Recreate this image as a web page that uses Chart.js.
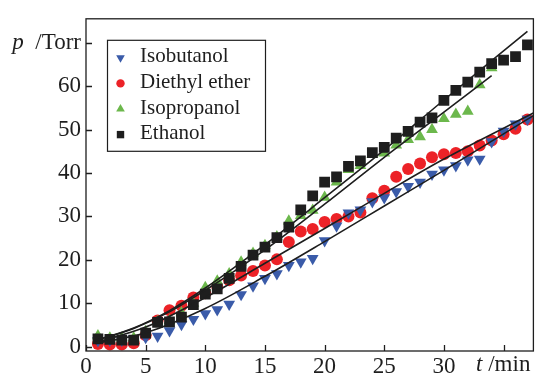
<!DOCTYPE html>
<html>
<head>
<meta charset="utf-8">
<script src="https://cdn.jsdelivr.net/npm/chart.js@4/dist/chart.umd.min.js"></script>
<style>
  html, body { margin: 0; padding: 0; background: #fff; }
  #wrap { width: 541px; height: 376px; }
</style>
</head>
<body>
<div id="wrap"><canvas id="c" width="541" height="376"></canvas></div>
<script>
// ---- data ----
const timeMain = [1,2,3,4,5,6,7,8,9,10,11,12,13,14,15,16,17,18,19,20,21,22,23,24,25,26,27,28,29,30,31,32,33,34,35,36,37];
const timeIso  = [1,2,3,4,5,6,7,8,9,10,11,12,13,14,15,16,17,18,19,20,21,22,23,24,25,26,27,28,29,30,31,32,33,34];

const isobutanol   = [1.4,1.5,1.5,1.8,2.1,2.4,3.7,5.1,6.3,7.6,8.5,9.8,12.0,14.0,15.7,16.8,18.7,19.5,20.3,24.4,27.8,30.8,31.5,33.4,34.3,35.7,36.9,37.9,39.7,40.7,41.7,43.0,43.2,47.2,49.6,51.3,52.4];
const diethylEther = [0.6,0.5,0.5,0.8,2.6,6.0,8.4,9.4,11.3,12.3,13.8,15.3,16.4,17.4,18.7,20.1,24.1,26.5,27.1,28.7,29.4,30.0,30.9,34.2,35.9,39.1,40.9,42.2,43.6,44.3,44.6,45.0,46.3,47.5,48.9,50.2,52.3];
const isopropanol  = [2.5,2.0,2.0,2.0,3.5,5.7,6.0,7.8,10.0,13.6,15.1,16.8,19.5,21.5,23.3,25.3,28.9,30.2,31.4,34.4,37.9,40.8,41.7,44.2,44.6,46.4,47.7,48.3,50.0,52.5,53.5,54.2,60.3,64.2];
const ethanol      = [1.8,1.7,1.5,1.5,3.1,5.6,5.7,6.8,9.7,12.1,13.3,15.7,18.5,21.1,22.9,25.1,27.5,31.5,34.7,37.9,39.1,41.5,42.8,44.7,45.9,48.0,49.6,51.7,52.7,56.7,59.0,60.9,63.2,65.2,66.0,66.8,69.5];

// fitted curves
const fitEthanolT = [0.8,4,7,10,15,20,25,30,37];
const fitEthanolP = [1.4,4.3,8.3,13.5,23.5,34.3,45.3,56.8,72.6];
const fitIsoT     = [0.8,4,7,10,15,20,25,30,34];
const fitIsoP     = [1.4,4.2,8.0,13.0,22.3,32.8,43.6,54.0,62.4];
const fitDiethylT = [0.8,5,10,15,20,25,30,37.5];
const fitDiethylP = [0.9,4.5,11.3,19.2,27.2,35.3,43.2,53.8];
const fitIsobutT  = [0.8,5,10,15,20,25,30,37.5];
const fitIsobutP  = [0.7,3.2,8.8,16.2,24.2,32.4,40.6,53.2];

const xTickValues = [0,5,10,15,20,25,30,35];
const yTickValues = [0,10,20,30,40,50,60,70];
const xAxisTitle = ['t', ' /min'];
const yAxisTitle = ['p', '  /Torr'];
const legendLabels = ['Isobutanol','Diethyl ether','Isopropanol','Ethanol'];

// ---- styles ----
const BLUE = '#3a5ba9', RED = '#ec2227', GREEN = '#6cb84c', BLACK = '#1e1e1e';
const FONT = "'Liberation Serif', 'DejaVu Serif', serif";
const TICK_SIZE = 23;

const pts = (xs, ys) => xs.map((x, i) => ({x, y: ys[i]}));

function fitDs(xs, ys) {
  return { data: pts(xs, ys), showLine: true, pointRadius: 0, borderColor: BLACK,
           borderWidth: 1.6, tension: 0.4, cubicInterpolationMode: 'monotone', fill: false };
}

function drawMarker(ctx, style, x, y, r, color) {
  ctx.fillStyle = color;
  ctx.beginPath();
  if (style === 'circle') {
    ctx.arc(x, y, r, 0, Math.PI * 2);
  } else if (style === 'rect') {
    ctx.rect(x - r, y - r, 2 * r, 2 * r);
  } else if (style === 'up') {
    ctx.moveTo(x, y - r); ctx.lineTo(x + r * 0.866, y + r / 2); ctx.lineTo(x - r * 0.866, y + r / 2);
  } else if (style === 'down') {
    ctx.moveTo(x, y + r); ctx.lineTo(x + r * 0.866, y - r / 2); ctx.lineTo(x - r * 0.866, y - r / 2);
  }
  ctx.closePath();
  ctx.fill();
}

const framePlugin = {
  id: 'frame',
  afterDraw(chart) {
    const {ctx, chartArea: a, scales: {x, y}} = chart;
    ctx.save();
    ctx.strokeStyle = BLACK; ctx.lineWidth = 1.3;
    ctx.strokeRect(a.left, a.top, a.right - a.left, a.bottom - a.top);
    ctx.beginPath();
    x.ticks.forEach(t => { const px = Math.round(x.getPixelForValue(t.value)) + 0.5; ctx.moveTo(px, a.bottom); ctx.lineTo(px, a.bottom - 6); });
    y.ticks.forEach(t => { const py = Math.round(y.getPixelForValue(t.value)) + 0.5; ctx.moveTo(a.left, py); ctx.lineTo(a.left + 6, py); });
    ctx.stroke();

    // axis titles in place of the last tick labels
    ctx.fillStyle = BLACK;
    ctx.textBaseline = 'middle';
    ctx.textAlign = 'right';
    ctx.font = TICK_SIZE + 'px ' + FONT;
    const yTy = y.getPixelForValue(70);
    const wRest = ctx.measureText(yAxisTitle[1]).width;
    ctx.fillText(yAxisTitle[1], a.left - 5, yTy);
    ctx.font = 'italic ' + TICK_SIZE + 'px ' + FONT;
    ctx.fillText(yAxisTitle[0], a.left - 5 - wRest, yTy);

    ctx.textBaseline = 'top';
    ctx.font = TICK_SIZE + 'px ' + FONT;
    const xTy = a.bottom + 2;
    const wMin = ctx.measureText(xAxisTitle[1]).width;
    ctx.fillText(xAxisTitle[1], a.right - 3, xTy);
    ctx.font = 'italic ' + TICK_SIZE + 'px ' + FONT;
    ctx.fillText(xAxisTitle[0], a.right - 3 - wMin, xTy);

    // legend
    const lx = a.left + 21, ly = a.top + 21;
    ctx.lineWidth = 1.2;
    ctx.strokeRect(lx + 0.5, ly + 0.5, 158, 111);
    const styles = [['down', BLUE, 5], ['circle', RED, 4.2], ['up', GREEN, 5], ['rect', BLACK, 3.7]];
    ctx.textAlign = 'left';
    ctx.textBaseline = 'middle';
    ctx.font = '21px ' + FONT;
    legendLabels.forEach((lab, i) => {
      const cy = ly + 17 + i * 25.6;
      drawMarker(ctx, styles[i][0], lx + 13.5, cy + 1, styles[i][2], styles[i][1]);
      ctx.fillStyle = BLACK;
      ctx.fillText(lab, lx + 33, cy);
    });
    ctx.restore();
  }
};

new Chart(document.getElementById('c'), {
  type: 'scatter',
  data: {
    datasets: [
      fitDs(fitEthanolT, fitEthanolP),
      fitDs(fitIsoT, fitIsoP),
      fitDs(fitDiethylT, fitDiethylP),
      fitDs(fitIsobutT, fitIsobutP),
      { label: 'Ethanol', data: pts(timeMain, ethanol), pointStyle: 'rect', pointRadius: 7.6,
        backgroundColor: BLACK, borderColor: BLACK, borderWidth: 0 },
      { label: 'Isopropanol', data: pts(timeIso, isopropanol), pointStyle: 'triangle', pointRadius: 6.8,
        backgroundColor: GREEN, borderColor: GREEN, borderWidth: 0 },
      { label: 'Isobutanol', data: pts(timeMain, isobutanol), pointStyle: 'triangle', rotation: 180, pointRadius: 6.8,
        backgroundColor: BLUE, borderColor: BLUE, borderWidth: 0 },
      { label: 'Diethyl ether', data: pts(timeMain, diethylEther), pointStyle: 'circle', pointRadius: 6,
        backgroundColor: RED, borderColor: RED, borderWidth: 0 }
    ]
  },
  options: {
    responsive: false,
    animation: false,
    events: [],
    layout: { padding: { top: 12, right: 1, left: 0, bottom: 0 } },
    plugins: { legend: { display: false }, tooltip: { enabled: false } },
    scales: {
      x: {
        type: 'linear', min: 0, max: 37.5,
        afterBuildTicks: s => { s.ticks = xTickValues.map(v => ({value: v})); },
        afterFit: s => { s.height = 25; },
        grid: { display: false, drawTicks: false },
        border: { display: false },
        ticks: { color: BLACK, font: { family: FONT, size: TICK_SIZE }, padding: 2, maxRotation: 0,
                 callback: v => (v === 35 ? '' : String(v)) }
      },
      y: {
        type: 'linear', min: -1, max: 75.5,
        afterBuildTicks: s => { s.ticks = yTickValues.map(v => ({value: v})); },
        afterFit: s => { s.width = 86; },
        grid: { display: false, drawTicks: false },
        border: { display: false },
        ticks: { color: BLACK, font: { family: FONT, size: TICK_SIZE }, padding: 5,
                 callback: v => (v === 70 ? '' : String(v)) }
      }
    }
  },
  plugins: [framePlugin]
});
</script>
</body>
</html>
